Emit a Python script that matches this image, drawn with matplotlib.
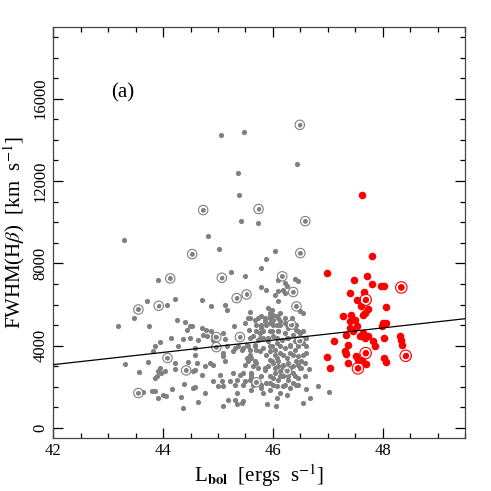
import matplotlib
matplotlib.use('Agg')
import matplotlib.pyplot as plt
from matplotlib.ticker import MultipleLocator

# gray sample: (log Lbol, FWHM Hbeta)
gray_x = [
    46.49, 45.05, 45.47, 46.44, 45.37, 45.39, 44.73, 45.74, 46.59, 45.42,
    45.73, 43.28, 44.81, 45.02, 44.53, 46.50, 46.04, 45.87, 45.78, 45.24,
    43.91, 44.13, 45.07, 45.50, 46.17, 46.10, 46.22, 46.25, 46.40, 46.46,
    46.37, 46.19, 46.23, 46.09, 46.04, 46.10, 46.43, 46.55, 46.49, 45.92,
    45.98, 46.01, 45.95, 46.07, 46.13, 45.79, 45.87,
    44.71, 44.88, 45.34, 45.52, 45.12, 45.16, 45.58, 45.58, 45.49, 45.30,
    45.79, 45.95, 44.70, 44.78, 44.73, 44.80, 44.64, 44.91, 44.97, 45.10,
    45.13, 45.40, 44.91, 44.52,
    43.70, 43.55, 43.92, 44.08, 44.22, 43.47, 43.17, 43.74, 44.26, 44.40,
    44.43, 44.49, 44.15, 44.36, 43.95,
    43.31, 43.73, 43.57, 43.85, 43.82, 44.08, 44.22, 44.22, 44.28, 44.45,
    44.42, 44.55, 43.91, 43.97, 43.88, 43.94, 44.03, 43.85, 44.38, 43.55,
    43.63, 43.79, 43.85, 43.91, 44.00, 44.06, 44.17, 44.32, 44.37, 44.55,
    44.97, 44.58, 45.10, 44.76, 44.85, 44.91, 45.13, 44.58, 44.70, 45.03,
    45.07, 45.10, 45.22, 45.28, 45.34, 45.40, 45.46, 45.49, 45.31, 45.34,
    45.43, 45.31, 45.19, 45.10, 44.64, 44.76, 44.58, 45.70, 45.61, 45.79,
    45.82, 45.64, 45.61, 45.58, 45.79, 45.85, 45.92, 45.70, 45.61, 45.52,
    45.28, 45.16, 45.10, 45.37, 45.46, 45.58, 45.76, 45.88, 45.95,
    45.34, 45.46, 45.90, 46.05, 46.08, 46.13, 46.25, 46.55, 46.67, 46.61,
    46.83, 47.02, 46.58, 46.61, 46.65,
    45.70, 45.78, 45.85, 45.95, 46.01, 46.07, 46.13, 46.22, 46.28, 46.34,
    46.43, 46.49, 45.76, 45.95, 46.10, 46.22, 46.37, 45.64, 45.73, 45.82,
    45.92, 46.01, 46.07, 46.16, 46.25, 46.31, 46.40, 46.49, 46.55, 45.67,
    45.98, 45.70, 45.82, 45.95, 46.04, 46.13, 46.22, 46.31, 46.40, 46.46,
    46.25, 46.07, 45.95, 46.01, 46.10, 46.19, 46.28, 46.37, 46.46, 46.52,
    46.13, 46.26, 46.37, 46.04, 46.01, 46.10, 46.19, 46.28, 46.37, 46.46,
    45.95, 46.07, 46.19, 46.31, 46.43, 45.56, 45.67,
    # dense core
    45.55, 45.73, 45.85, 45.95, 46.10, 46.22, 46.34,
    45.79, 45.88, 46.01, 46.13, 46.25, 46.43,
    45.70, 45.82, 45.98, 46.10, 46.46, 46.55,
    45.58, 45.76, 45.92, 46.07, 46.28, 46.61,
    45.55, 45.67, 45.95, 46.13, 46.31, 46.46, 46.61,
    45.58, 45.88, 46.04, 46.19, 46.37, 46.55,
    45.55, 45.67, 45.98, 46.10, 46.43, 46.52,
    45.73, 45.85, 46.04, 46.19, 46.31, 46.49,
    45.61, 45.95, 46.13, 46.28, 46.40, 46.58,
    45.64, 45.79, 46.01, 46.22, 46.46,
    44.88, 44.49, 44.58, 44.61, 45.49, 44.91, 45.00, 45.46, 45.31, 45.43,
    45.52,
]
gray_y = [
    14730, 14260, 14380, 12840, 12370, 11300, 10590, 10640, 10050, 10040,
    9970, 9150, 9340, 8690, 8450, 8500, 8600, 8210, 7790, 7590,
    7170, 7270, 7300, 7370, 7370, 7200, 7040, 6880, 7240, 7120,
    6610, 6720, 6560, 6640, 6480, 6150, 5910, 5590, 5670, 5830,
    5750, 5500, 5420, 5420, 5590, 6850, 6720,
    6200, 5910, 6310, 6490, 5960, 5750, 5630, 5340, 5100, 4940,
    5420, 5590, 4860, 4780, 4530, 4450, 4290, 4480, 4420, 4610,
    4320, 4420, 4290, 4940,
    6170, 5760, 5940, 5990, 6270, 5360, 4940, 4940, 5260, 5160,
    4740, 4940, 4390, 4340, 4190,
    3110, 3190, 2700, 3970, 3720, 3400, 3160, 2880, 3970, 3190,
    2800, 2750, 2750, 2670, 2510, 2910, 2750, 2430, 2150, 1700,
    1750, 1780, 1780, 1460, 1620, 1540, 1890, 1490, 970, 1940,
    3930, 3890, 3480, 3000, 3160, 3080, 3240, 2830, 2590, 2590,
    2270, 2020, 2270, 2670, 2350, 2590, 2670, 2270, 2100, 1700,
    1210, 1380, 1380, 1080, 1250, 1700, 1980, 2220, 1860, 1940,
    1700, 3000, 2670, 2350, 2510, 2830, 3000, 3160, 3400, 3400,
    3720, 3970, 3640, 3970, 3890, 3800, 3720, 2190, 1860,
    1170, 1300, 1170, 1080, 1460, 1700, 1620, 1210, 1460, 1890,
    2060, 1730, 3160, 3640, 2870,
    5020, 4860, 5180, 5100, 5260, 5020, 5180, 5100, 4860, 5020,
    4780, 4610, 4610, 4700, 4700, 4610, 4530, 4450, 4290, 4370,
    4210, 4450, 4130, 4290, 4370, 4050, 4210, 4240, 4130, 4050,
    3970, 3800, 3890, 3720, 3800, 3640, 3890, 3640, 3800, 3480,
    3400, 3400, 3320, 3160, 3000, 3080, 3160, 3000, 3080, 2910,
    2750, 2780, 2670, 2670, 2430, 2350, 2510, 2350, 2190, 2430,
    2190, 2020, 2020, 1940, 2100, 4780, 5260,
    # dense core
    5340, 5340, 5340, 5340, 5340, 5340, 5340,
    5020, 5020, 5020, 5020, 5020, 5020,
    4700, 4700, 4700, 4700, 4700, 4700,
    4370, 4370, 4370, 4370, 4370, 4370,
    3970, 3970, 3970, 3970, 3970, 3970, 3970,
    3560, 3560, 3560, 3560, 3560, 3560,
    3240, 3240, 3240, 3240, 3240, 3240,
    2910, 2910, 2910, 2910, 2910, 2910,
    2510, 2510, 2510, 2510, 2510, 2510,
    2100, 2100, 2100, 2100, 2100,
    4700, 4370, 3560, 3160, 3080, 2270, 2020, 2100, 3890, 3800,
    4050,
]

# gray objects that are also circled
gray_ring_x = [46.49, 44.73, 45.74, 46.59, 44.53, 46.50, 44.13, 45.07, 46.17,
               46.37, 45.34, 45.52, 43.55, 43.92, 46.43, 46.34, 44.97, 45.40,
               44.97, 44.08, 44.42, 46.49, 43.55, 45.70, 46.26]
gray_ring_y = [14730, 10590, 10640, 10050, 8450, 8500, 7270, 7300, 7370,
               6610, 6310, 6490, 5760, 5940, 5910, 5020, 4420, 4420,
               3930, 3400, 2800, 4240, 1700, 2220, 2780]

# red sample
red_x = [47.63, 47.81, 46.98, 47.48, 47.72, 47.80, 47.97, 48.02, 48.34, 47.40,
         47.66, 47.54, 47.69, 47.60, 47.74, 47.68, 47.64, 48.06, 47.28, 47.43,
         47.49, 47.54, 47.40, 47.40, 48.01, 48.07, 47.98, 47.46, 47.34, 47.64,
         47.74, 47.68, 47.58, 47.83, 47.86, 47.12, 47.37, 47.31, 47.33, 48.03,
         48.31, 48.33, 48.36, 47.69, 47.52, 47.63, 46.98, 47.37, 47.55, 47.69,
         48.42, 47.55, 48.03, 48.06, 47.04]
red_y = [11300, 8340, 7510, 7210, 7370, 7010, 6910, 6910, 6830, 6560,
         6610, 6230, 6230, 5910, 5800, 5590, 5510, 5890, 5420, 5510,
         5260, 4940, 5180, 4860, 5100, 5100, 4940, 4700, 4530, 4610,
         4450, 4370, 4450, 4210, 3970, 4210, 4020, 3720, 3610, 4360,
         4490, 4290, 4020, 3640, 3510, 3320, 3430, 3160, 3320, 3130,
         3510, 2900, 3400, 3190, 2900]

red_ring_x = [48.34, 47.69, 47.69, 48.42, 47.55]
red_ring_y = [6830, 6230, 3640, 3510, 2900]

# fitted relation
fit_x = [42.0, 49.5]
fit_y = [3080, 5310]

plt.rcParams['font.family'] = 'Liberation Serif'
plt.rcParams['mathtext.fontset'] = 'stix'

fig = plt.figure(figsize=(4.91, 4.91), dpi=100)
ax = fig.add_axes([0.1086, 0.1073, 0.8384, 0.8384])

gray = '#808080'
ax.scatter(gray_x, gray_y, s=14, color=gray, linewidths=0, zorder=2)
ax.scatter(gray_ring_x, gray_ring_y, s=22, facecolors='none',
           edgecolors='white', linewidths=0.8, zorder=3)
ax.scatter(gray_ring_x, gray_ring_y, s=46, facecolors='none',
           edgecolors=gray, linewidths=0.8, zorder=3)
ax.scatter(red_x, red_y, s=30, color='red', linewidths=0, zorder=4)
ax.scatter(red_ring_x, red_ring_y, s=34, facecolors='none',
           edgecolors='white', linewidths=0.9, zorder=5)
ax.scatter(red_ring_x, red_ring_y, s=68, facecolors='none',
           edgecolors='red', linewidths=0.8, zorder=5)
ax.plot(fit_x, fit_y, color='black', linewidth=0.9, zorder=6)

ax.set_xlim(42, 49.5)
ax.set_ylim(-500, 19500)
ax.xaxis.set_major_locator(MultipleLocator(2))
ax.xaxis.set_minor_locator(MultipleLocator(0.5))
ax.yaxis.set_major_locator(MultipleLocator(4000))
ax.yaxis.set_minor_locator(MultipleLocator(1000))
ax.tick_params(which='both', direction='in', top=True, right=True,
               width=0.9, labelsize=12)
ax.tick_params(which='major', length=7)
ax.tick_params(which='minor', length=3.5)
ax.tick_params(axis='y', labelrotation=90)
for lbl in ax.get_yticklabels():
    lbl.set_va('center')
for sp in ax.spines.values():
    sp.set_linewidth(0.9)
    sp.set_color('#444444')

ax.set_xlabel(r'L$_{\mathbf{bol}}$  [ergs  s$^{-1}$]', fontsize=15, labelpad=2)
ax.set_ylabel(r'FWHM(H$\beta$)  [km  s$^{-1}$]', fontsize=15, labelpad=4)
ax.text(0.169, 0.839, '(a)', transform=ax.transAxes, fontsize=15,
        ha='center', va='center')

fig.savefig('out.png', dpi=100)
